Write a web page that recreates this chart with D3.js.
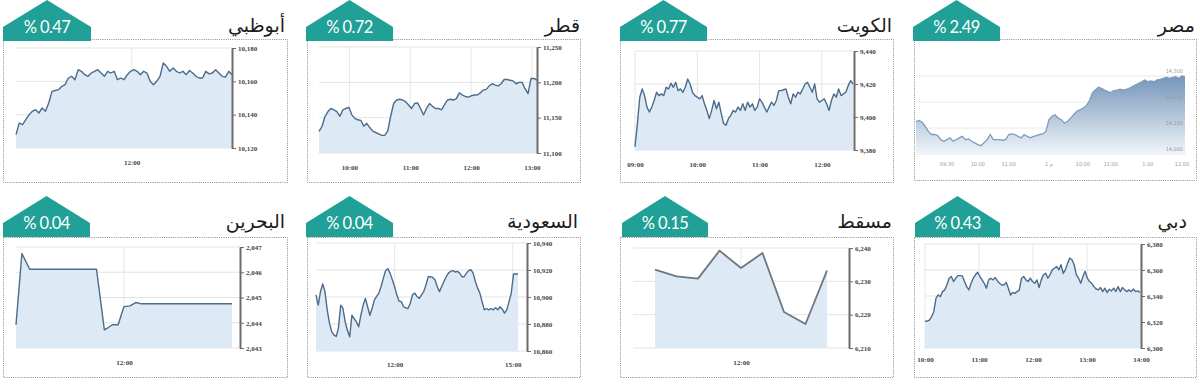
<!DOCTYPE html>
<html><head><meta charset="utf-8">
<script src="https://cdn.jsdelivr.net/npm/d3@7"></script>
<style>html,body{margin:0;padding:0;background:#fff;} svg{display:block}</style>
</head><body><svg id="c" width="1200" height="384"></svg>
<script>
// ---------- DATA ----------
const titles = ["أبوظبي","قطر","الكويت","مصر","البحرين","السعودية","مسقط","دبي"];
const pctLabels = ["% 0.47","% 0.72","% 0.77","% 2.49","% 0.04","% 0.04","% 0.15","% 0.43"];

const adValues = [10128,10135,10134,10137,10140,10142,10143,10141,10144,10142,10147,10154,10154.5,10155,10157,10158,10162,10163,10161,10167,10166,10164,10163,10165,10166,10167,10165,10163,10166,10165,10166,10161,10162,10161,10164,10166,10167,10166,10164,10166,10165,10160,10158,10160,10163,10171,10169,10166,10168,10166,10165,10166,10164,10166.5,10165,10163,10162,10162,10166,10164.5,10165,10167,10165,10163,10162.5,10166,10164];
const adTicks = [10120,10140,10160,10180];
const adXTicks = ["12:00"];

const qaValues = [11130.5,11137.5,11151.6,11158.6,11163,11161,11158.6,11152,11161,11163,11164.7,11154,11149,11147,11146,11138,11142,11136,11131,11129,11127,11125,11125,11131,11152,11170,11175,11176,11175,11172.6,11168,11163,11170,11171,11163,11154,11163,11170,11166,11163,11163,11161,11168,11175,11176,11175,11177,11185,11182,11180,11179,11181,11182,11182,11185,11189,11190,11195,11198,11196,11195,11198,11204,11204,11203,11202,11198,11200,11200,11191,11184,11205.5,11205.5,11203];
const qaTicks = [11100,11150,11200,11250];
const qaXTicks = ["10:00","11:00","12:00","13:00"];

const kwValues = [9382,9396,9412,9417,9413,9406,9403,9406,9410,9415,9413,9414,9413,9418,9417,9420.5,9418,9421,9416,9417,9415,9418,9423,9420,9415,9413,9412,9411,9413,9408,9404,9399,9404,9410,9405,9409,9402,9396,9395,9399,9401,9404,9403,9406,9404,9408,9404,9409,9406,9408,9404,9406,9411,9409,9406,9403,9406,9409,9407,9410,9416,9416,9416.5,9417,9412,9408,9414,9412,9415,9414,9417,9420,9421,9418,9415,9420,9411,9409,9410,9411,9408,9404,9410,9414,9412,9417,9413,9414,9415,9419,9422,9420];
const kwTicks = [9380,9400,9420,9440];
const kwXTicks = ["09:00","10:00","11:00","12:00"];

const egValues = [14125,14129,14122,14106,14087,14075,14075,14071,14055,14049,14055,14062,14049,14055,14062,14068,14055,14058,14049,14043,14036,14032,14043,14055,14075,14055,14055,14055,14053,14055,14075,14077,14075,14068,14062,14075,14068,14062,14068,14071,14075,14077,14087,14132,14145,14151,14138,14132,14119,14125,14138,14151,14164,14170,14176,14185,14202,14234,14246,14257,14253,14246,14240,14236,14244,14246,14249,14246,14249,14253,14259,14266,14272,14278,14285,14278,14281,14278,14285,14287,14291,14295,14291,14295,14297,14291,14300,14297];
const egTicks = [14000,14100,14200,14300];
const egXLabels = ["09:30","10:00","11:00","1 م","10:00","11:00","1:00","12:00"];
const egXIndex = [10,20,30,43,54,63,75,86];

const bhTimes = ["11:05","11:08","11:12","11:46","11:50","11:52","11:54","11:57","12:00","12:03","12:06","12:09","12:55"];
const bhValues = [2043.92,2046.74,2046.12,2046.12,2043.72,2043.81,2043.92,2043.92,2044.64,2044.67,2044.8,2044.75,2044.75];
const bhTicks = [2043,2044,2045,2046,2047];
const bhXTicks = ["12:00"];

const saValues = [10901.6,10894,10904,10909.6,10904,10890.5,10880.6,10874.4,10871.9,10870.7,10876.9,10894,10891.5,10881.6,10875.4,10870.5,10886.5,10884,10881.6,10877.9,10886.5,10894,10899,10892.8,10886.5,10891.5,10897.7,10900.4,10902.9,10907.8,10914,10919.5,10921,10917.7,10912.8,10907.8,10901.6,10897,10896.6,10892.8,10892,10891.5,10895.4,10901.6,10902.9,10900.4,10899,10901.6,10904,10909,10915,10915,10914.5,10912.8,10907.8,10904,10907.8,10911.5,10915,10917.7,10919,10919.5,10918.5,10919,10917.7,10915,10915,10917.7,10919.5,10920.2,10917.7,10911.5,10906.6,10902.9,10896.6,10890.5,10891.5,10890.5,10891.5,10890.5,10892,10890.5,10892.8,10891,10888,10890.5,10896.6,10902.9,10917,10917,10917];
const saTicks = [10860,10880,10900,10920,10940];
const saXTicks = ["12:00","15:00"];

const muValues = [6233.5,6231.5,6230.8,6239.2,6234,6238.5,6220.8,6217.2,6233.2];
const muTicks = [6210,6220,6230,6240];
const muXTicks = ["12:00"];

const dbValues = [6320.6,6320.6,6321.4,6324,6327.9,6338.2,6340.8,6339.5,6343.4,6344.7,6348.6,6353.7,6355,6351.1,6353.7,6355.7,6355.7,6355.5,6351.1,6347.2,6344.7,6349.8,6353.7,6356.3,6358.3,6355,6352.4,6349.8,6346,6352.4,6353.7,6352.4,6354.2,6351.6,6349.8,6348.5,6348.5,6350.5,6346,6340.8,6342.8,6342,6343.4,6344.7,6353.7,6355,6352.4,6351.1,6353.7,6351.1,6349.8,6352.4,6346.5,6352.4,6356.3,6357.5,6353.7,6356.3,6360.1,6361.4,6362.7,6360.1,6364,6357.5,6360.1,6365.3,6369.2,6367.9,6364,6356.3,6353.7,6349.8,6355,6359,6353.7,6351.1,6349.8,6347.2,6345.4,6344.7,6346.5,6343.4,6346,6342.6,6345.2,6343.9,6346,6343.4,6347.2,6343.4,6346.5,6344.7,6343.4,6344.7,6343.4,6345.4,6343.4,6343.9,6342.8];
const dbTicks = [6300,6320,6340,6360,6380];
const dbXTicks = ["10:00","11:00","12:00","13:00","14:00"];

// ---------- RENDER ----------
const svg = d3.select("#c");
const parseT = d3.timeParse("%H:%M");
const fmt = d3.format(",");
const TEAL = "#20a096", LINE = "#4d6b8a", FILL = "#dde9f5";
const defs = svg.append("defs");

function frame(o) {
  svg.append("rect").attr("x", o.border[0]+0.5).attr("y", o.border[1]+0.5)
    .attr("width", o.border[2]-o.border[0]).attr("height", o.border[3]-o.border[1])
    .attr("fill","none").attr("stroke","#8a8a8a").attr("stroke-width",1).attr("stroke-dasharray","1,1.2");
  const [L,R,T] = o.badge, mid=(L+R)/2;
  svg.append("path").attr("d", `M${L},${T+27}L${mid},${T}L${R},${T+27}L${R},${T+41}L${L},${T+41}Z`).attr("fill", TEAL);
  svg.append("text").attr("x", mid).attr("y", T+33).attr("text-anchor","middle")
    .attr("font-family","Lato, 'Open Sans', sans-serif").attr("font-size",16.5).attr("fill","#fff")
    .attr("letter-spacing","-0.6").text(o.pct);
  svg.append("text").attr("x", o.titleX).attr("y", o.titleY).attr("text-anchor","end")
    .attr("font-family","'DejaVu Sans', sans-serif").attr("font-size",19).attr("fill","#1c1c1c")
    .text(o.title);
}

function panel(o) {
  frame(o);
  const g = svg.append("g");
  const y = d3.scaleLinear().domain(d3.extent(o.yTicks)).range([o.plotY[1], o.plotY[0]]);
  const t = d3.scaleTime().domain(o.timeDomain.map(parseT)).range(o.timeRange);
  g.selectAll(null).data(o.yTicks).join("line")
    .attr("x1", o.gridX0).attr("x2", o.axisX).attr("y1", d=>y(d)).attr("y2", d=>y(d))
    .attr("stroke","#e3e3e3").attr("stroke-width",1);
  g.selectAll(null).data(o.xTicks).join("line")
    .attr("x1", d=>t(parseT(d))).attr("x2", d=>t(parseT(d)))
    .attr("y1", o.plotY[0]).attr("y2", o.plotY[1])
    .attr("stroke","#e6e6e6").attr("stroke-width",1);
  let pts;
  if (o.times) pts = o.times.map((s,i)=>[t(parseT(s)), y(o.values[i])]);
  else {
    const xi = d3.scaleLinear().domain([0, o.values.length-1]).range(o.dataX);
    pts = o.values.map((v,i)=>[xi(i), y(v)]);
  }
  g.append("path").datum(pts)
    .attr("d", d3.area().x(d=>d[0]).y0(o.plotY[1]).y1(d=>d[1]))
    .attr("fill", FILL);
  g.append("path").datum(pts)
    .attr("d", d3.line().x(d=>d[0]).y(d=>d[1]))
    .attr("fill","none").attr("stroke", o.lineColor || LINE).attr("stroke-width", o.lineWidth || 1.4)
    .attr("stroke-linejoin","round");
  const ya = g.append("g").attr("transform",`translate(${o.axisX},0)`)
    .call(d3.axisRight(y).tickValues(o.yTicks).tickFormat(fmt).tickSize(4).tickSizeOuter(0).tickPadding(2));
  ya.select(".domain").attr("stroke","#6b6b6b").attr("stroke-width",2);
  ya.selectAll(".tick line").attr("stroke","#6b6b6b");
  ya.selectAll("text").attr("font-family","'Liberation Serif', serif").attr("font-size",7)
    .attr("font-weight","bold").attr("fill","#444");
  const xa = g.append("g").attr("transform",`translate(0,${o.xLabelY})`)
    .call(d3.axisBottom(t).tickValues(o.xTicks.map(parseT)).tickFormat(d3.timeFormat("%H:%M")).tickSize(0).tickPadding(0));
  xa.select(".domain").remove();
  xa.selectAll("text").attr("font-family","'Liberation Serif', serif").attr("font-size",7)
    .attr("font-weight","bold").attr("fill","#444").attr("dy","0");
}

function egypt(o) {
  frame(o);
  const g = svg.append("g");
  const y = d3.scaleLinear().domain(d3.extent(egTicks)).range([o.plotY[1], o.plotY[0]]);
  const xi = d3.scaleLinear().domain([0, egValues.length-1]).range(o.dataX);
  g.selectAll(null).data(egTicks).join("line")
    .attr("x1", o.gridX[0]).attr("x2", o.gridX[1]).attr("y1", d=>y(d)).attr("y2", d=>y(d))
    .attr("stroke","#e8e8e8");
  const grad = defs.append("linearGradient").attr("id","egGrad").attr("x1",0).attr("x2",0).attr("y1",0).attr("y2",1);
  grad.append("stop").attr("offset","0%").attr("stop-color","#7595b8");
  grad.append("stop").attr("offset","100%").attr("stop-color","#f1f6fb");
  g.append("path").datum(egValues)
    .attr("d", d3.area().x((d,i)=>xi(i)).y0(o.plotY[1]+1).y1(d=>y(d)))
    .attr("fill","url(#egGrad)");
  g.append("path").datum(egValues)
    .attr("d", d3.line().x((d,i)=>xi(i)).y(d=>y(d)))
    .attr("fill","none").attr("stroke","#7d9cbc").attr("stroke-width",1.3);
  g.selectAll(null).data(egTicks).join("text")
    .attr("x", o.gridX[1]-3).attr("y", d=>y(d)-3).attr("text-anchor","end")
    .attr("font-family","'DejaVu Sans Condensed', sans-serif").attr("font-size",5.5).attr("fill","#9a9a9a")
    .text(d=>fmt(d));
  g.selectAll(null).data(egXLabels).join("text")
    .attr("x", (d,i)=>xi(egXIndex[i])).attr("y", o.xLabelY).attr("text-anchor","middle")
    .attr("font-family","'DejaVu Sans Condensed', sans-serif").attr("font-size",5.5).attr("fill","#9a9a9a")
    .text(d=>d);
}

panel({title:titles[0], pct:pctLabels[0], badge:[3,91,0], border:[3,39,287,182], titleX:285, titleY:32,
  gridX0:16, axisX:232, plotY:[48,148], yTicks:adTicks, timeDomain:["10:00","13:44"], timeRange:[16,232],
  xTicks:adXTicks, xLabelY:165, values:adValues, dataX:[16,232]});
panel({title:titles[1], pct:pctLabels[1], badge:[306,393,0], border:[307,39,580,182], titleX:580, titleY:32,
  gridX0:319, axisX:537, plotY:[47,153], yTicks:qaTicks, timeDomain:["09:30","13:05"], timeRange:[319,537],
  xTicks:qaXTicks, xLabelY:170, values:qaValues, dataX:[319,537]});
panel({title:titles[2], pct:pctLabels[2], badge:[620,707,0], border:[620,39,893,182], titleX:892, titleY:32,
  gridX0:635, axisX:854, plotY:[51,150], yTicks:kwTicks, timeDomain:["09:00","12:31"], timeRange:[635,854],
  xTicks:kwXTicks, xLabelY:167, values:kwValues, dataX:[635,853]});
egypt({title:titles[3], pct:pctLabels[3], badge:[913,1000,0], border:[914,39,1196,180], titleX:1195, titleY:32,
  plotY:[76,154], gridX:[916,1186], dataX:[916,1185], xLabelY:166});
panel({title:titles[4], pct:pctLabels[4], badge:[3,90,196], border:[3,237,287,377], titleX:285, titleY:228,
  gridX0:16, axisX:240, plotY:[247,348], yTicks:bhTicks, timeDomain:["11:05","12:55"], timeRange:[16,232],
  xTicks:bhXTicks, xLabelY:365, values:bhValues, times:bhTimes});
panel({title:titles[5], pct:pctLabels[5], badge:[306,393,196], border:[307,237,580,377], titleX:578, titleY:228,
  gridX0:316, axisX:527, plotY:[243,351], yTicks:saTicks, timeDomain:["10:00","15:08"], timeRange:[316,518],
  xTicks:saXTicks, xLabelY:367, values:saValues, dataX:[316,518]});
panel({title:titles[6], pct:pctLabels[6], badge:[622,708,196], border:[620,237,893,377], titleX:892, titleY:228,
  gridX0:633, axisX:849, plotY:[248,348], yTicks:muTicks, timeDomain:["10:00","14:00"], timeRange:[633,849],
  xTicks:muXTicks, xLabelY:365, values:muValues, dataX:[655,827], lineColor:"#6d7683", lineWidth:1.8});
panel({title:titles[7], pct:pctLabels[7], badge:[915,1000,196], border:[914,237,1196,377], titleX:1187, titleY:228,
  gridX0:925, axisX:1141, plotY:[244,348], yTicks:dbTicks, timeDomain:["10:00","14:00"], timeRange:[925,1141],
  xTicks:dbXTicks, xLabelY:362, values:dbValues, dataX:[925,1140]});
</script>
</body></html>
